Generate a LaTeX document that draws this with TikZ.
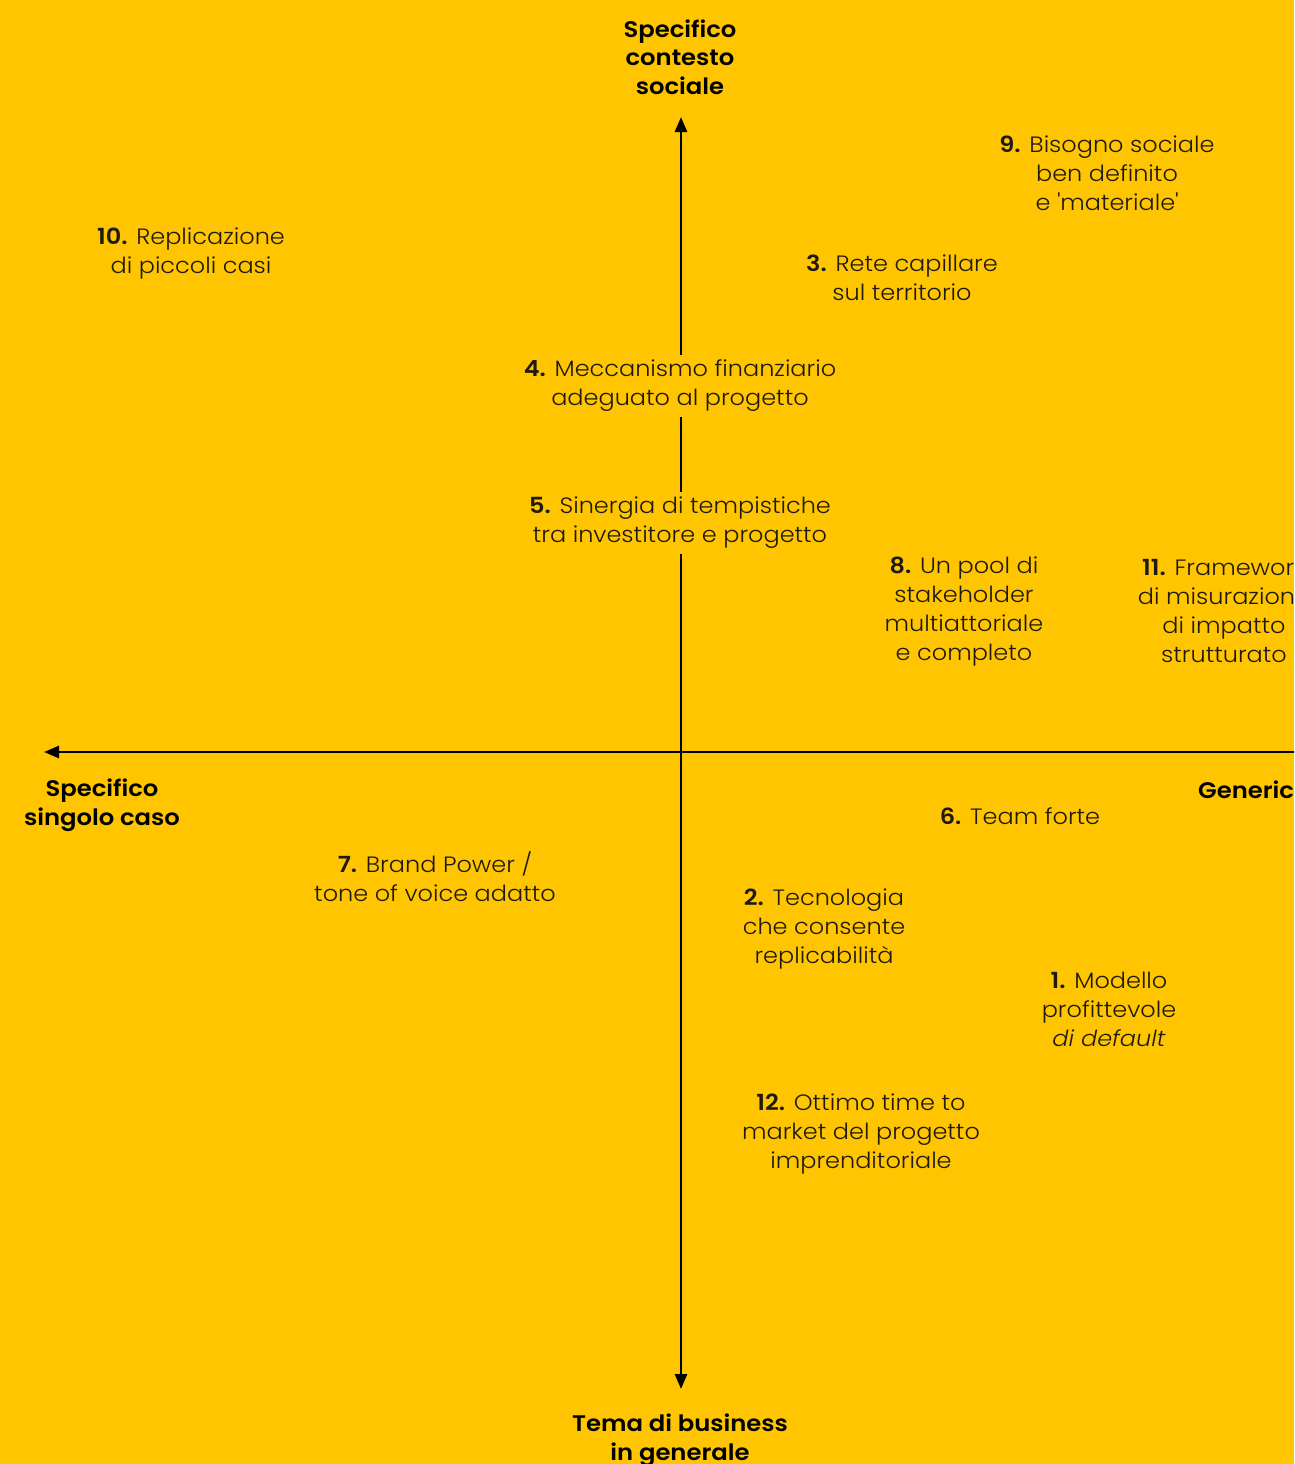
\documentclass[tikz,border=0pt]{standalone}
\usepackage{fontspec}
\setmainfont{Poppins}[UprightFont=* Light, BoldFont=* SemiBold, ItalicFont=* Light Italic, FakeStretch=1.08]
\usetikzlibrary{arrows.meta}
\definecolor{bgyellow}{HTML}{FFC500}
\definecolor{ink}{HTML}{1E1A10}
\begin{document}
\begin{tikzpicture}[
    x=1pt, y=-1pt,
    item/.style={align=center, text=ink, font=\fontsize{22.2}{29}\selectfont, inner sep=#1},
    item/.default=2pt,
    gap/.style={item=5pt, fill=bgyellow},
    heading/.style={align=center, text=black, font=\fontsize{22.5}{28.5}\selectfont\bfseries, inner sep=0pt},
    axis/.style={line width=2.6pt, black, -{Triangle[length=15pt, width=12pt]}}
]
% Canvas
\useasboundingbox (0,0) rectangle (1294,1464);
\clip (0,0) rectangle (1294,1464);
\fill[bgyellow] (0,0) rectangle (1294,1464);

% Axis ends
\coordinate (north) at (681,117);
\coordinate (south) at (681,1389);
\coordinate (west) at (44,752);
\coordinate (east) at (1320,752);

% Axes
\draw[axis] (681,752) -- (north);
\draw[axis] (681,752) -- (south);
\draw[axis] (east) -- (west);

% Axis titles
\node[heading] (social) at (680,57) {Specifico\\contesto\\sociale};
\node[heading] (business) at (680,1440) {Tema di business\\in generale};
\node[heading] (single) at (102,805) {Specifico\\singolo caso};
\node[heading, anchor=west] (generic) at (1198,790) {Generico};

% Upper half
\node[item] (n9) at (1107,173) {\textbf{9.} Bisogno sociale\\ben definito\\e \textquotesingle materiale\textquotesingle};
\node[item] (n10) at (191,254) {\textbf{10.} Replicazione\\di piccoli casi};
\node[item] (n3) at (902,277.5) {\textbf{3.} Rete capillare\\sul territorio};
\node[gap] (n4) at (680,386) {\textbf{4.} Meccanismo finanziario\\adeguato al progetto};
\node[gap] (n5) at (680,523) {\textbf{5.} Sinergia di tempistiche\\tra investitore e progetto};
\node[item] (n8) at (964,611.5) {\textbf{8.} Un pool di\\stakeholder\\multiattoriale\\e completo};
\node[item] (n11) at (1224,610.5) {\textbf{11.} Framework\\di misurazione\\di impatto\\strutturato};

% Lower half
\node[item] (n6) at (1020,816) {\textbf{6.} Team forte};
\node[item] (n7) at (435,877) {\textbf{7.} Brand Power /\\tone of voice adatto};
\node[item] (n2) at (824,929) {\textbf{2.} Tecnologia\\che consente\\replicabilità};
\node[item] (n1) at (1109,1009) {\textbf{1.} Modello\\profittevole\\\textit{di default}};
\node[item] (n12) at (861,1134.5) {\textbf{12.} Ottimo time to\\market del progetto\\imprenditoriale};
\end{tikzpicture}
\end{document}
